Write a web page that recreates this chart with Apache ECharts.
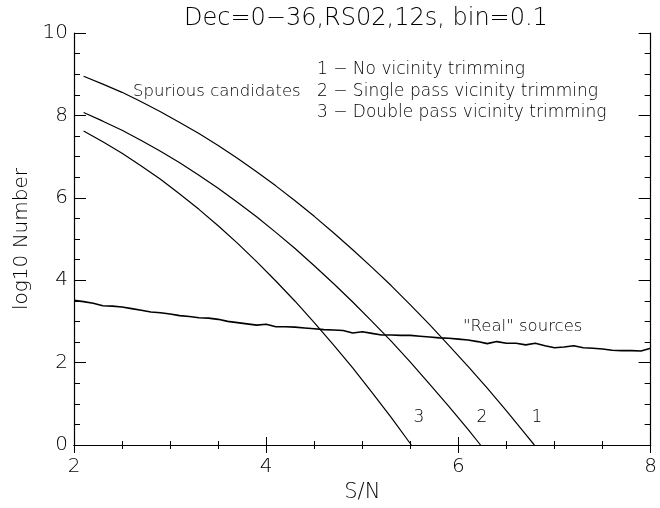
<!DOCTYPE html>
<html>
<head>
<meta charset="utf-8">
<script src="https://cdn.jsdelivr.net/npm/echarts@6/dist/echarts.min.js"></script>
<style>html,body{margin:0;padding:0;background:#fff;}#c{width:660px;height:508px;}</style>
</head>
<body>
<div id="c"></div>
<script>
// ---- data ----
const titleText = "Dec=0\u221236,RS02,12s, bin=0.1";
const xTicks = [2, 4, 6, 8];
const yTicks = [0, 2, 4, 6, 8, 10];

// "Real" sources, bin = 0.1
const realSN = [2.0,2.1,2.2,2.3,2.4,2.5,2.6,2.7,2.8,2.9,3.0,3.1,3.2,3.3,3.4,3.5,3.6,3.7,3.8,3.9,
  4.0,4.1,4.2,4.3,4.4,4.5,4.6,4.7,4.8,4.9,5.0,5.1,5.2,5.3,5.4,5.5,5.6,5.7,5.8,5.9,
  6.0,6.1,6.2,6.3,6.4,6.5,6.6,6.7,6.8,6.9,7.0,7.1,7.2,7.3,7.4,7.5,7.6,7.7,7.8,7.9,8.0];
const realLog = [3.51,3.48,3.44,3.38,3.37,3.35,3.31,3.27,3.23,3.21,3.18,3.14,3.12,3.09,3.08,3.05,3.00,2.97,2.94,2.91,
  2.93,2.87,2.87,2.86,2.84,2.82,2.80,2.79,2.78,2.72,2.75,2.71,2.67,2.67,2.66,2.66,2.64,2.62,2.60,2.59,
  2.57,2.55,2.51,2.46,2.51,2.47,2.47,2.43,2.47,2.41,2.36,2.38,2.41,2.36,2.35,2.33,2.30,2.29,2.29,2.28,2.35];

// Spurious candidates
const spur1SN  = [2.1,2.3,2.5,2.7,2.9,3.1,3.3,3.5,3.7,3.9,4.1,4.3,4.5,4.7,4.9,5.1,5.3,5.5,5.7,5.9,6.1,6.3,6.5,6.7,6.79];
const spur1Log = [8.95,8.76,8.56,8.33,8.09,7.83,7.56,7.27,6.96,6.63,6.29,5.93,5.55,5.15,4.74,4.31,3.87,3.40,2.92,2.42,1.91,1.38,0.83,0.26,0.0];
const spur2SN  = [2.1,2.3,2.5,2.7,2.9,3.1,3.3,3.5,3.7,3.9,4.1,4.3,4.5,4.7,4.9,5.1,5.3,5.5,5.7,5.9,6.1,6.23];
const spur2Log = [8.07,7.86,7.64,7.39,7.13,6.85,6.55,6.23,5.89,5.54,5.16,4.77,4.35,3.92,3.47,3.00,2.52,2.01,1.48,0.94,0.38,0.0];
const spur3SN  = [2.1,2.3,2.5,2.7,2.9,3.1,3.3,3.5,3.7,3.9,4.1,4.3,4.5,4.7,4.9,5.1,5.3,5.51];
const spur3Log = [7.62,7.36,7.08,6.77,6.45,6.09,5.72,5.32,4.90,4.45,3.98,3.49,2.97,2.43,1.87,1.28,0.67,0.0];

const spurLabel = "Spurious candidates";
const legendLines = ["1 \u2212 No vicinity trimming", "2 \u2212 Single pass vicinity trimming", "3 \u2212 Double pass vicinity trimming"];
const curveLabels = ["3", "2", "1"];
const realLabel = "\"Real\" sources";

// ---- chart ----
const FONT = "DejaVu Sans";
const INK = '#000';
const chart = echarts.init(document.getElementById('c'), null, {renderer: 'canvas'});
const pair = (xs, ys) => xs.map((x, i) => [x, ys[i]]);
const axisLine = {show: true, lineStyle: {color: '#000', width: 1.2}};

function xAx(pos, labels) {
  return {
    type: 'value', position: pos, min: xTicks[0], max: xTicks[xTicks.length-1], interval: 2,
    axisLine: axisLine,
    axisTick: {show: true, inside: true, length: 8, lineStyle: {color: '#000', width: 1}},
    minorTick: {show: true, splitNumber: 4, length: 4, lineStyle: {color: '#000', width: 1}},
    splitLine: {show: false},
    axisLabel: {show: labels, margin: 12, color: INK, fontFamily: FONT, fontSize: 20, fontWeight: 200},
    name: labels ? 'S/N' : '', nameLocation: 'middle', nameGap: 37,
    nameTextStyle: {color: INK, fontFamily: FONT, fontSize: 21, fontWeight: 200}
  };
}
function yAx(pos, labels) {
  return {
    type: 'value', position: pos, min: yTicks[0], max: yTicks[yTicks.length-1], interval: 2,
    axisLine: axisLine,
    axisTick: {show: true, inside: true, length: 12, lineStyle: {color: '#000', width: 1}},
    minorTick: {show: true, splitNumber: 4, length: 6, lineStyle: {color: '#000', width: 1}},
    splitLine: {show: false},
    axisLabel: {show: labels, margin: 6, color: INK, fontFamily: FONT, fontSize: 20, fontWeight: 200},
    name: labels ? 'log10 Number' : '', nameLocation: 'middle', nameGap: 42, nameRotate: 90,
    nameTextStyle: {color: INK, fontFamily: FONT, fontSize: 20, fontWeight: 200}
  };
}
function line(data, w) {
  return {type: 'line', data: data, xAxisIndex: 0, yAxisIndex: 0, showSymbol: false, symbol: 'none',
    smooth: false, lineStyle: {color: '#000', width: w}, silent: true, animation: false, clip: true};
}
function txt(x, y, s, size, align) {
  return {type: 'text', x: x, y: y, style: {text: s, fill: INK, font: '200 ' + size + 'px "' + FONT + '"',
    textAlign: align || 'left', textVerticalAlign: 'middle'}};
}

chart.setOption({
  animation: false,
  backgroundColor: '#fff',
  title: {text: titleText, left: 179, top: 2, textStyle: {color: INK, fontFamily: FONT, fontSize: 24, fontWeight: 200}},
  grid: {left: 74, right: 3, top: 33, bottom: 60, containLabel: false},
  xAxis: [xAx('bottom', true), xAx('top', false)],
  yAxis: [yAx('left', true), yAx('right', false)],
  series: [
    line(pair(realSN, realLog), 1.6),
    line(pair(spur1SN, spur1Log), 1.2),
    line(pair(spur2SN, spur2Log), 1.2),
    line(pair(spur3SN, spur3Log), 1.2)
  ],
  graphic: [
    txt(133, 92, spurLabel, 16.5),
    txt(317, 70, legendLines[0], 17),
    txt(317, 92, legendLines[1], 17),
    txt(317, 113, legendLines[2], 17),
    txt(419, 418, curveLabels[0], 17, 'center'),
    txt(482, 418, curveLabels[1], 17, 'center'),
    txt(537, 418, curveLabels[2], 17, 'center'),
    txt(463, 327, realLabel, 16.5)
  ]
});
</script>
</body>
</html>
